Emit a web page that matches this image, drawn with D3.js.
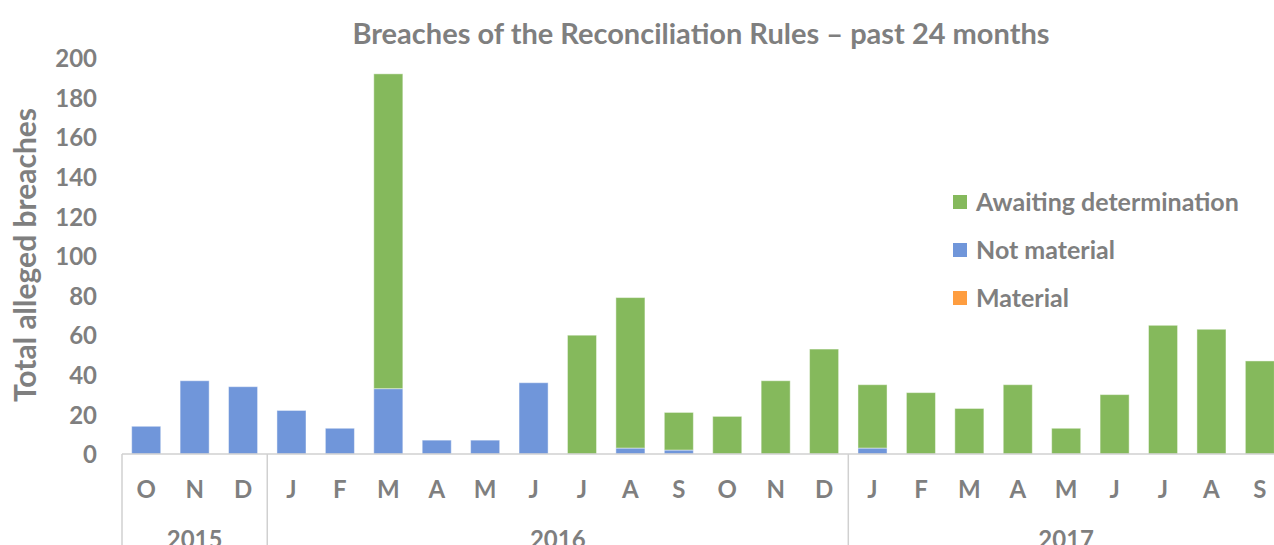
<!DOCTYPE html>
<html>
<head>
<meta charset="utf-8">
<script src="https://cdn.jsdelivr.net/npm/d3@7"></script>
<style>
  body { margin: 0; background: #fff; }
  text { font-family: Lato, "Open Sans", sans-serif; font-weight: bold; fill: #7f7f7f; }
</style>
</head>
<body>
<script>
// data
var months = ["O","N","D","J","F","M","A","M","J","J","A","S","O","N","D","J","F","M","A","M","J","J","A","S"];
var years = ["2015", "2016", "2017"];
var yearSpans = [3, 12, 9];
var notMaterial = [14,37,34,22,13,33,7,7,36,0,3,2,0,0,0,3,0,0,0,0,0,0,0,0];
var awaiting    = [0,0,0,0,0,159,0,0,0,60,76,19,19,37,53,32,31,23,35,13,30,65,63,47];
var material    = [0,0,0,0,0,0,0,0,0,0,0,0,0,0,0,0,0,0,0,0,0,0,0,0];
var yTicks = [0,20,40,60,80,100,120,140,160,180,200];

var seriesNames = ["Material", "Not material", "Awaiting determination"];
var colors = {"Material": "#fe9d40", "Not material": "#7096da", "Awaiting determination": "#85b95c"};

var W = 1274, H = 545;
var plotLeft = 122, step = 48.42;
var plotBase = 454, plotTop = 58;

var svg = d3.select("body").append("svg")
  .attr("width", W)
  .attr("height", H);

// table for d3.stack
var rows = months.map(function(m, i) {
  return {"Material": material[i], "Not material": notMaterial[i], "Awaiting determination": awaiting[i]};
});
var stacked = d3.stack().keys(seriesNames)(rows);

var x = d3.scaleBand()
  .domain(d3.range(months.length))
  .range([plotLeft, plotLeft + step * months.length])
  .paddingInner(0.4)
  .paddingOuter(0.2);

var y = d3.scaleLinear().domain([0, 200]).range([plotBase, plotTop]);

// title
svg.append("text")
  .attr("x", 701)
  .attr("y", 44)
  .attr("text-anchor", "middle")
  .style("font-size", "29px")
  .text("Breaches of the Reconciliation Rules \u2013 past 24 months");

// y axis (labels only)
var yAxis = svg.append("g")
  .attr("transform", "translate(" + plotLeft + ",0)")
  .call(d3.axisLeft(y).tickValues(yTicks).tickSize(0).tickPadding(25));
yAxis.select(".domain").remove();
yAxis.selectAll("text")
  .attr("dy", "0.36em")
  .style("font-family", "Lato, sans-serif")
  .style("font-weight", "bold")
  .style("font-size", "24px")
  .attr("fill", "#7f7f7f");

svg.append("text")
  .attr("transform", "translate(36,255) rotate(-90)")
  .attr("text-anchor", "middle")
  .style("font-size", "30px")
  .text("Total alleged breaches");

// bars
svg.selectAll(".series")
  .data(stacked)
  .enter()
  .append("g")
    .attr("class", "series")
    .attr("fill", function(d) { return colors[d.key]; })
  .selectAll("rect")
  .data(function(d) { return d; })
  .enter()
  .append("rect")
    .attr("x", function(d, i) { return x(i); })
    .attr("width", x.bandwidth())
    .attr("y", function(d) { return y(d[1]); })
    .attr("height", function(d) { return y(d[0]) - y(d[1]); })
    .attr("stroke", "#ffffff")
    .attr("stroke-opacity", 0.45)
    .attr("stroke-width", function(d) { return d[1] > d[0] ? 1 : 0; });

// category axis line
svg.append("line")
  .attr("x1", plotLeft).attr("x2", plotLeft + step * months.length)
  .attr("y1", plotBase).attr("y2", plotBase)
  .attr("stroke", "#d0d0d0").attr("stroke-width", 1.5);

// month labels
svg.selectAll(".month")
  .data(months)
  .enter()
  .append("text")
    .attr("class", "month")
    .attr("x", function(d, i) { return x(i) + x.bandwidth() / 2; })
    .attr("y", 498)
    .attr("text-anchor", "middle")
    .style("font-size", "24px")
    .text(function(d) { return d; });

// year groups and separators
var start = 0;
var bounds = [0];
years.forEach(function(yr, k) {
  var a = plotLeft + step * start,
      b = plotLeft + step * (start + yearSpans[k]);
  svg.append("text")
    .attr("x", (a + b) / 2)
    .attr("y", 548)
    .attr("text-anchor", "middle")
    .style("font-size", "24px")
    .text(yr);
  start += yearSpans[k];
  bounds.push(start);
});
svg.selectAll(".sep")
  .data(bounds)
  .enter()
  .append("line")
    .attr("class", "sep")
    .attr("x1", function(d) { return plotLeft + step * d; })
    .attr("x2", function(d) { return plotLeft + step * d; })
    .attr("y1", plotBase)
    .attr("y2", H)
    .attr("stroke", "#d0d0d0").attr("stroke-width", 1.5);

// legend
var legend = svg.selectAll(".legend")
  .data(seriesNames.slice().reverse())
  .enter()
  .append("g")
    .attr("class", "legend")
    .attr("transform", function(d, i) { return "translate(953," + (195 + i * 48) + ")"; });
legend.append("rect")
  .attr("width", 14).attr("height", 14)
  .attr("fill", function(d) { return colors[d]; });
legend.append("text")
  .attr("x", 23)
  .attr("y", 16)
  .style("font-size", "25px")
  .text(function(d) { return d; });
</script>
</body>
</html>
